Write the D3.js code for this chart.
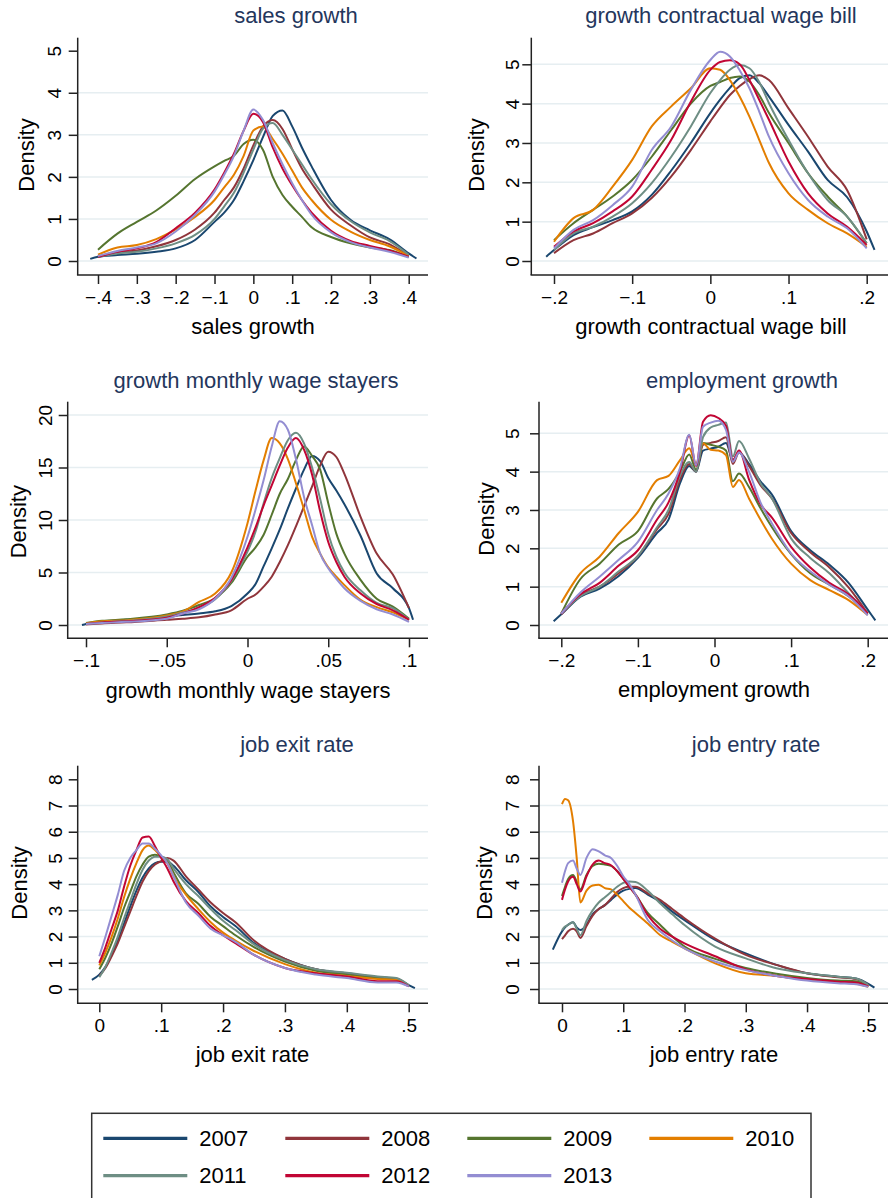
<!DOCTYPE html>
<html>
<head>
<meta charset="utf-8">
<script src="https://cdn.jsdelivr.net/npm/d3@7"></script>
<style>
  body { margin: 0; background: #fff; }
  svg { display: block; }
  text { font-family: "Liberation Sans", Arial, Helvetica, sans-serif; }
</style>
</head>
<body>
<svg width="888" height="1198"></svg>
<script>
// series
const years = ["2007", "2008", "2009", "2010", "2011", "2012", "2013"];
const colors = ["#1a476f", "#90353b", "#55752f", "#e37e00", "#6e8e84", "#c10534", "#938dd2"];

const titles = ["sales growth", "growth contractual wage bill", "growth monthly wage stayers",
                "employment growth", "job exit rate", "job entry rate"];

// tick values
const salesTicks = [-0.4, -0.3, -0.2, -0.1, 0, 0.1, 0.2, 0.3, 0.4];
const wageBillTicks = [-0.2, -0.1, 0, 0.1, 0.2];
const stayersTicks = [-0.1, -0.05, 0, 0.05, 0.1];
const emplTicks = [-0.2, -0.1, 0, 0.1, 0.2];
const rateTicks = [0, 0.1, 0.2, 0.3, 0.4, 0.5];
const density5 = [0, 1, 2, 3, 4, 5];
const density20 = [0, 5, 10, 15, 20];
const density8 = [0, 1, 2, 3, 4, 5, 6, 7, 8];

// sales growth
const salesX = [-0.42, -0.4, -0.35, -0.3, -0.25, -0.2, -0.15, -0.1, -0.075, -0.05, -0.025, 0, 0.025, 0.05, 0.075, 0.1, 0.125, 0.15, 0.2, 0.25, 0.3, 0.35, 0.4, 0.42];
const salesY = [
  [0.05, 0.1, 0.14, 0.17, 0.22, 0.3, 0.5, 0.93, 1.15, 1.45, 1.9, 2.4, 2.95, 3.45, 3.58, 3.2, 2.7, 2.25, 1.45, 0.98, 0.73, 0.52, 0.18, 0.06],
  [null, 0.1, 0.2, 0.25, 0.35, 0.5, 0.75, 1.15, 1.45, 1.75, 2.2, 2.75, 3.2, 3.35, 3.14, 2.66, 2.2, 1.85, 1.22, 0.85, 0.56, 0.4, 0.12, null],
  [null, 0.27, 0.65, 0.93, 1.2, 1.55, 1.95, 2.25, 2.38, 2.5, 2.78, 2.88, 2.64, 2.0, 1.57, 1.29, 1.05, 0.8, 0.57, 0.42, 0.32, 0.26, 0.1, null],
  [null, 0.15, 0.32, 0.38, 0.52, 0.75, 1.05, 1.45, 1.75, 2.05, 2.5, 3.1, 3.2, 2.9, 2.55, 2.15, 1.75, 1.45, 0.98, 0.7, 0.5, 0.35, 0.12, null],
  [null, 0.1, 0.18, 0.22, 0.3, 0.42, 0.62, 1.0, 1.3, 1.62, 2.1, 2.65, 3.15, 3.28, 3.0, 2.65, 2.3, 1.95, 1.35, 0.95, 0.68, 0.48, 0.15, null],
  [null, 0.1, 0.22, 0.3, 0.45, 0.78, 1.15, 1.7, 2.1, 2.55, 3.1, 3.5, 3.3, 2.7, 2.2, 1.8, 1.45, 1.15, 0.72, 0.48, 0.36, 0.25, 0.1, null],
  [null, 0.12, 0.24, 0.32, 0.42, 0.7, 1.1, 1.65, 2.05, 2.5, 3.1, 3.6, 3.35, 2.8, 2.3, 1.85, 1.45, 1.1, 0.68, 0.45, 0.32, 0.22, 0.08, null]
];

// growth contractual wage bill
const wageBillX = [-0.21, -0.2, -0.175, -0.15, -0.125, -0.1, -0.075, -0.05, -0.025, 0, 0.0125, 0.025, 0.0375, 0.05, 0.0625, 0.075, 0.1, 0.125, 0.15, 0.175, 0.2, 0.21];
const wageBillY = [
  [0.11, 0.28, 0.66, 0.86, 1.04, 1.26, 1.68, 2.3, 3.0, 3.76, 4.1, 4.4, 4.65, 4.72, 4.52, 4.18, 3.46, 2.78, 2.06, 1.62, 0.75, 0.28],
  [null, 0.2, 0.53, 0.7, 0.96, 1.21, 1.6, 2.15, 2.82, 3.55, 3.9, 4.22, 4.45, 4.62, 4.72, 4.6, 3.88, 3.16, 2.4, 1.8, 0.55, null],
  [null, 0.53, 0.96, 1.3, 1.64, 2.06, 2.65, 3.33, 4.0, 4.45, 4.55, 4.65, 4.69, 4.56, 4.22, 3.76, 3.0, 2.23, 1.64, 1.13, 0.45, null],
  [null, 0.49, 1.09, 1.3, 1.89, 2.57, 3.42, 3.93, 4.39, 4.9, 4.86, 4.6, 4.18, 3.67, 3.08, 2.49, 1.72, 1.3, 0.96, 0.7, 0.36, null],
  [null, 0.28, 0.7, 0.87, 1.13, 1.47, 1.98, 2.65, 3.42, 4.27, 4.6, 4.86, 4.98, 4.9, 4.55, 4.01, 3.08, 2.23, 1.55, 1.13, 0.45, null],
  [null, 0.36, 0.75, 0.96, 1.26, 1.64, 2.32, 3.08, 4.05, 4.86, 5.06, 5.1, 5.0, 4.6, 4.1, 3.59, 2.53, 1.72, 1.21, 0.87, 0.41, null],
  [null, 0.32, 0.79, 1.04, 1.42, 1.89, 2.82, 3.42, 4.35, 5.11, 5.32, 5.2, 4.85, 4.39, 3.8, 3.16, 2.23, 1.55, 1.13, 0.83, 0.32, null]
];

// growth monthly wage stayers
const stayersX = [-0.1025, -0.1, -0.09, -0.075, -0.05, -0.04, -0.03, -0.02, -0.01, 0, 0.005, 0.01, 0.015, 0.02, 0.025, 0.03, 0.035, 0.04, 0.045, 0.05, 0.055, 0.06, 0.07, 0.08, 0.09, 0.1, 0.1025];
const stayersY = [
  [0, 0.1, 0.3, 0.5, 0.8, 0.95, 1.1, 1.3, 1.8, 3.0, 3.9, 5.6, 7.3, 9.1, 11.1, 13.0, 14.8, 16.1, 15.6, 14.0, 12.8, 11.5, 8.5, 4.9, 3.5, 1.6, 0.5],
  [null, 0.05, 0.15, 0.25, 0.5, 0.6, 0.73, 1.0, 1.4, 2.5, 2.9, 3.65, 4.6, 6.0, 7.6, 9.4, 11.3, 13.2, 15.2, 16.5, 16.0, 14.4, 10.3, 6.8, 4.8, 1.6, null],
  [null, 0.2, 0.4, 0.55, 1.0, 1.35, 1.9, 2.55, 4.0, 6.5, 7.4, 8.6, 10.5, 12.5, 13.9, 15.7, 17.0, 16.1, 14.8, 11.6, 8.7, 6.8, 4.3, 2.5, 1.75, 0.6, null],
  [null, 0.15, 0.35, 0.45, 0.9, 1.3, 2.2, 3.0, 5.0, 9.7, 12.8, 15.7, 17.8, 17.3, 15.8, 13.5, 11.0, 8.4, 6.8, 5.5, 4.6, 3.8, 2.4, 1.7, 1.2, 0.5, null],
  [null, 0.1, 0.25, 0.4, 0.8, 1.2, 1.6, 2.45, 4.2, 7.0, 8.9, 11.6, 14.0, 15.9, 17.6, 18.3, 17.3, 15.0, 12.0, 8.7, 6.5, 5.0, 3.3, 2.1, 1.6, 0.5, null],
  [null, 0.1, 0.25, 0.35, 0.7, 1.1, 1.7, 2.6, 4.3, 7.4, 9.3, 11.4, 13.3, 15.2, 16.9, 17.8, 16.7, 14.3, 10.8, 7.9, 6.0, 4.6, 3.0, 2.0, 1.4, 0.5, null],
  [null, 0.1, 0.2, 0.3, 0.6, 1.1, 1.5, 2.5, 4.5, 8.4, 11.0, 13.8, 17.0, 19.4, 18.6, 15.8, 12.2, 9.5, 6.8, 5.4, 4.4, 3.5, 2.3, 1.5, 1.0, 0.3, null]
];

// employment growth
const emplX = [-0.21, -0.2, -0.175, -0.15, -0.125, -0.1, -0.075, -0.06, -0.045, -0.033, -0.024, -0.015, -0.005, 0.005, 0.015, 0.024, 0.032, 0.045, 0.06, 0.075, 0.1, 0.125, 0.15, 0.175, 0.2, 0.21];
const emplY = [
  [0.1, 0.28, 0.74, 0.95, 1.28, 1.75, 2.4, 2.75, 3.7, 4.15, 4.0, 4.55, 4.6, 4.65, 4.75, 4.3, 4.5, 4.2, 3.75, 3.4, 2.45, 1.95, 1.57, 1.1, 0.4, 0.12],
  [null, 0.28, 0.78, 1.0, 1.35, 1.8, 2.5, 2.9, 3.8, 4.2, 4.0, 4.7, 4.75, 4.8, 4.9, 4.2, 4.5, 4.15, 3.65, 3.3, 2.4, 1.9, 1.5, 0.98, 0.3, null],
  [null, 0.3, 1.2, 1.6, 2.1, 2.45, 3.3, 3.55, 4.0, 4.45, 4.05, 4.75, 4.7, 4.65, 4.55, 3.75, 3.95, 3.6, 3.05, 2.55, 1.85, 1.35, 1.05, 0.75, 0.3, null],
  [null, 0.58, 1.35, 1.78, 2.4, 2.95, 3.78, 3.89, 4.3, 4.61, 4.2, 4.74, 4.57, 4.55, 4.43, 3.6, 3.78, 3.3, 2.75, 2.25, 1.6, 1.17, 0.91, 0.65, 0.26, null],
  [null, 0.3, 0.75, 1.0, 1.4, 1.8, 2.55, 3.0, 3.9, 4.25, 4.0, 4.9, 5.15, 5.22, 5.28, 4.4, 4.8, 4.35, 3.7, 3.3, 2.26, 1.75, 1.35, 0.83, 0.3, null],
  [null, 0.3, 0.8, 1.1, 1.55, 1.95, 2.75, 3.2, 4.0, 4.95, 4.15, 5.3, 5.47, 5.4, 5.2, 4.3, 4.55, 3.8, 3.15, 2.8, 2.04, 1.5, 1.1, 0.8, 0.3, null],
  [null, 0.3, 0.85, 1.26, 1.7, 2.17, 3.0, 3.43, 4.1, 4.96, 4.17, 5.17, 5.28, 5.33, 5.09, 4.26, 4.5, 4.0, 3.2, 2.65, 1.87, 1.4, 1.05, 0.75, 0.25, null]
];

// job exit rate
const exitX = [-0.012, 0, 0.01, 0.02, 0.03, 0.04, 0.05, 0.06, 0.07, 0.08, 0.09, 0.1, 0.11, 0.12, 0.14, 0.16, 0.18, 0.2, 0.22, 0.25, 0.3, 0.35, 0.4, 0.45, 0.48, 0.5, 0.51];
const exitY = [
  [0.35, 0.55, 0.85, 1.3, 1.85, 2.5, 3.15, 3.75, 4.25, 4.6, 4.8, 4.85, 4.85, 4.7, 4.15, 3.7, 3.15, 2.75, 2.4, 1.75, 1.15, 0.75, 0.6, 0.45, 0.38, 0.15, 0.03],
  [null, 0.5, 0.8, 1.25, 1.75, 2.35, 2.95, 3.55, 4.1, 4.5, 4.75, 4.88, 5.0, 4.9, 4.3, 3.8, 3.3, 2.9, 2.55, 1.85, 1.15, 0.75, 0.58, 0.45, 0.4, 0.12, null],
  [null, 0.75, 1.2, 1.75, 2.4, 3.1, 3.7, 4.3, 4.75, 5.05, 5.12, 5.05, 4.9, 4.45, 3.65, 3.25, 2.75, 2.4, 2.05, 1.6, 1.05, 0.7, 0.55, 0.42, 0.38, 0.12, null],
  [null, 0.9, 1.4, 2.0, 2.7, 3.5, 4.2, 4.8, 5.3, 5.47, 5.3, 5.05, 4.8, 4.3, 3.6, 3.05, 2.55, 2.15, 1.85, 1.45, 0.95, 0.62, 0.5, 0.38, 0.35, 0.12, null],
  [null, 0.45, 0.85, 1.4, 2.0, 2.7, 3.35, 4.0, 4.55, 4.9, 5.05, 5.05, 4.95, 4.6, 4.0, 3.55, 3.05, 2.6, 2.25, 1.7, 1.1, 0.75, 0.62, 0.48, 0.42, 0.15, null],
  [null, 1.0, 1.6, 2.3, 3.0, 3.9, 4.7, 5.3, 5.78, 5.82, 5.45, 5.0, 4.6, 4.1, 3.35, 2.9, 2.4, 2.05, 1.75, 1.3, 0.8, 0.6, 0.48, 0.3, 0.3, 0.1, null],
  [null, 1.25, 2.0, 2.8, 3.6, 4.5, 5.0, 5.3, 5.55, 5.55, 5.35, 5.1, 4.8, 4.3, 3.3, 2.8, 2.3, 2.05, 1.8, 1.3, 0.8, 0.55, 0.42, 0.25, 0.25, 0.1, null]
];

// job entry rate
const entryX = [-0.015, 0, 0.005, 0.01, 0.018, 0.024, 0.03, 0.04, 0.05, 0.06, 0.07, 0.08, 0.09, 0.1, 0.11, 0.12, 0.14, 0.16, 0.18, 0.2, 0.25, 0.3, 0.35, 0.4, 0.45, 0.48, 0.5, 0.51];
const entryY = [
  [1.5, 2.2, 2.35, 2.45, 2.55, 2.35, 2.25, 2.45, 2.85, 3.05, 3.2, 3.4, 3.6, 3.75, 3.82, 3.85, 3.6, 3.33, 2.95, 2.63, 1.87, 1.36, 0.92, 0.6, 0.47, 0.4, 0.2, 0.05],
  [null, 1.9, 2.05, 2.2, 2.3, 2.2, 1.95, 2.4, 2.8, 3.05, 3.2, 3.45, 3.7, 3.85, 3.9, 3.9, 3.65, 3.4, 3.05, 2.7, 1.92, 1.3, 0.92, 0.6, 0.45, 0.38, 0.15, null],
  [null, 3.55, 3.9, 4.2, 4.35, 4.1, 3.8, 4.35, 4.7, 4.78, 4.75, 4.7, 4.5, 4.2, 3.9, 3.6, 2.9, 2.45, 2.0, 1.62, 1.15, 0.8, 0.58, 0.42, 0.32, 0.3, 0.1, null],
  [null, 7.05, 7.25, 7.2, 6.4, 5.0, 3.3, 3.75, 3.95, 3.98, 3.85, 3.8, 3.6, 3.35, 3.1, 2.9, 2.5, 2.06, 1.8, 1.55, 0.98, 0.6, 0.5, 0.35, 0.25, 0.2, 0.08, null],
  [null, 2.25, 2.38, 2.45, 2.55, 2.3, 2.05, 2.6, 3.0, 3.3, 3.5, 3.7, 3.9, 4.05, 4.1, 4.08, 3.75, 3.27, 2.85, 2.44, 1.62, 1.17, 0.79, 0.6, 0.47, 0.4, 0.15, null],
  [null, 3.4, 3.8, 4.1, 4.28, 4.0, 3.72, 4.3, 4.75, 4.9, 4.8, 4.72, 4.5, 4.2, 3.9, 3.6, 2.82, 2.3, 2.0, 1.74, 1.25, 0.75, 0.5, 0.38, 0.28, 0.25, 0.1, null],
  [null, 4.05, 4.5, 4.8, 4.9, 4.6, 4.35, 5.0, 5.33, 5.25, 5.1, 5.0, 4.7, 4.3, 4.0, 3.6, 2.63, 2.2, 1.85, 1.55, 1.05, 0.72, 0.5, 0.32, 0.22, 0.18, 0.08, null]
];

// panel layout (pixels)
const panels = [
  { xs: salesX, ys: salesY, xt: salesTicks, yt: density5, noTopGrid: true,
    ax: 77.7, ay: 275, right: 428, top: 37.7, xr: [98, 408.7], yr: [261, 50.7],
    tx: 296, ty: 23.3, xtx: 253, xty: 334, dx: 33.5, dy: 155, ylabX: 61, xlabY: 304 },
  { xs: wageBillX, ys: wageBillY, xt: wageBillTicks, yt: density5, noTopGrid: false,
    ax: 531.3, ay: 275, right: 890, top: 37.7, xr: [554, 866.7], yr: [261, 64.3],
    tx: 721, ty: 23.3, xtx: 711, xty: 334, dx: 484, dy: 155, ylabX: 519, xlabY: 304 },
  { xs: stayersX, ys: stayersY, xt: stayersTicks, yt: density20, noTopGrid: false,
    ax: 67.7, ay: 638.3, right: 428, top: 401.7, xr: [86, 409], yr: [625, 415],
    tx: 256, ty: 387.5, xtx: 248, xty: 698, dx: 25.5, dy: 521.7, ylabX: 51.5, xlabY: 667.5 },
  { xs: emplX, ys: emplY, xt: emplTicks, yt: density5, noTopGrid: false,
    ax: 539, ay: 638.3, right: 890, top: 401.7, xr: [561.3, 867.7], yr: [625, 433.3],
    tx: 742, ty: 387.5, xtx: 714, xty: 697, dx: 494, dy: 519, ylabX: 519, xlabY: 667.5 },
  { xs: exitX, ys: exitY, xt: rateTicks, yt: density8, noTopGrid: true,
    ax: 77.7, ay: 1003.3, right: 428, top: 765.7, xr: [99.3, 408.7], yr: [989, 779.3],
    tx: 297, ty: 751.7, xtx: 252.5, xty: 1062, dx: 26.5, dy: 883, ylabX: 61.5, xlabY: 1031.7 },
  { xs: entryX, ys: entryY, xt: rateTicks, yt: density8, noTopGrid: true,
    ax: 539, ay: 1003.3, right: 890, top: 765.7, xr: [562, 868.3], yr: [989, 779.3],
    tx: 756, ty: 751.7, xtx: 714, xty: 1062, dx: 492.3, dy: 883, ylabX: 519, xlabY: 1031.7 }
];

const svg = d3.select("svg");
const axisColor = "#222";

function fmt(v) {
  if (v === 0) return "0";
  const s = String(Math.abs(v)).replace(/^0/, "");
  return (v < 0 ? "\u2212" : "") + s;
}

panels.forEach(function(p, k) {
  const x = d3.scaleLinear().domain(d3.extent(p.xt)).range(p.xr);
  const y = d3.scaleLinear().domain(d3.extent(p.yt)).range(p.yr);
  const g = svg.append("g");

  // grid
  const gridVals = p.yt.filter(v => !(p.noTopGrid && v === d3.max(p.yt)));
  g.selectAll(".grid").data(gridVals).join("line")
    .attr("x1", p.ax).attr("x2", p.right)
    .attr("y1", d => y(d)).attr("y2", d => y(d))
    .attr("stroke", "#e6eef1").attr("stroke-width", 1.5);

  // density curves
  const line = d3.line()
    .defined(d => d[1] != null)
    .x(d => x(d[0])).y(d => y(d[1]))
    .curve(d3.curveMonotoneX);
  p.ys.forEach(function(s, i) {
    g.append("path")
      .datum(p.xs.map((xv, j) => [xv, s[j]]))
      .attr("d", line)
      .attr("fill", "none")
      .attr("stroke", colors[i])
      .attr("stroke-width", 2)
      .attr("stroke-linejoin", "round");
  });

  // x axis
  const xa = g.append("g").attr("transform", "translate(0," + p.ay + ")")
    .call(d3.axisBottom(x).tickValues(p.xt).tickFormat(fmt).tickSize(9));
  xa.select(".domain").remove();
  xa.selectAll(".tick line").attr("stroke", axisColor).attr("stroke-width", 1.5);
  xa.selectAll(".tick text").attr("dy", null).attr("y", p.xlabY - p.ay)
    .attr("fill", "#000").attr("font-size", 19).attr("font-family", null);

  // y axis
  const ya = g.append("g").attr("transform", "translate(" + p.ax + ",0)")
    .call(d3.axisLeft(y).tickValues(p.yt).tickFormat(fmt).tickSize(9));
  ya.select(".domain").remove();
  ya.selectAll(".tick line").attr("stroke", axisColor).attr("stroke-width", 1.5);
  ya.selectAll(".tick text")
    .attr("transform", "rotate(-90)")
    .attr("x", 0).attr("dy", null)
    .attr("y", -(p.ax - p.ylabX))
    .attr("text-anchor", "middle")
    .attr("fill", "#000").attr("font-size", 19).attr("font-family", null);

  // axis lines
  g.append("line").attr("x1", p.ax).attr("x2", p.ax).attr("y1", p.top).attr("y2", p.ay)
    .attr("stroke", axisColor).attr("stroke-width", 1.5);
  g.append("line").attr("x1", p.ax - 0.75).attr("x2", p.right).attr("y1", p.ay).attr("y2", p.ay)
    .attr("stroke", axisColor).attr("stroke-width", 1.5);

  // titles
  g.append("text").attr("x", p.tx).attr("y", p.ty).attr("text-anchor", "middle")
    .attr("font-size", 22).attr("fill", "#24365c").text(titles[k]);
  g.append("text").attr("x", p.xtx).attr("y", p.xty).attr("text-anchor", "middle")
    .attr("font-size", 22).attr("fill", "#000").text(titles[k]);
  g.append("text").attr("transform", "translate(" + p.dx + "," + p.dy + ") rotate(-90)")
    .attr("text-anchor", "middle").attr("font-size", 22).attr("fill", "#000").text("Density");
});

// legend
const legend = svg.append("g");
legend.append("rect").attr("x", 91.7).attr("y", 1113.3).attr("width", 719.3).attr("height", 110)
  .attr("fill", "none").attr("stroke", "#333").attr("stroke-width", 1.5);
const colX = d3.scalePoint().domain([0, 1, 2, 3]).range([103.3, 649.3]);
const rowY = d3.scalePoint().domain([0, 1]).range([1138.3, 1175.7]);
years.forEach(function(yr, i) {
  const cx = colX(i % 4), cy = rowY(Math.floor(i / 4));
  legend.append("line").attr("x1", cx).attr("x2", cx + 84).attr("y1", cy).attr("y2", cy)
    .attr("stroke", colors[i]).attr("stroke-width", 3.3);
  legend.append("text").attr("x", cx + 96).attr("y", cy + 7.5)
    .attr("font-size", 22).attr("fill", "#000").text(yr);
});
</script>
</body>
</html>
